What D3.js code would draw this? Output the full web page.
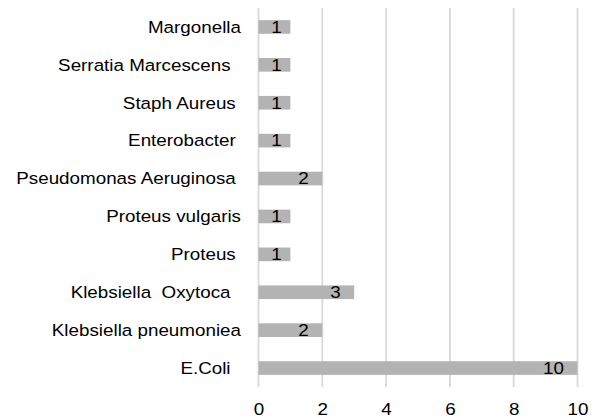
<!DOCTYPE html>
<html>
<head>
<meta charset="utf-8">
<script src="https://cdn.jsdelivr.net/npm/d3@7"></script>
<style>
  body { margin: 0; background: #fff; }
  svg text { font-family: Arial, "Liberation Sans", sans-serif; white-space: pre; }
</style>
</head>
<body>
<svg id="chart"></svg>
<script>
// categories top to bottom (trailing spaces kept as in the source labels)
const categories = [
  'Margonella',
  'Serratia Marcescens  ',
  'Staph Aureus ',
  'Enterobacter ',
  'Pseudomonas Aeruginosa ',
  'Proteus vulgaris',
  'Proteus ',
  'Klebsiella  Oxytoca  ',
  'Klebsiella pneumoniea',
  'E.Coli  '
];
const counts = [1, 1, 1, 1, 2, 1, 1, 3, 2, 10];
const xTicks = [0, 2, 4, 6, 8, 10];

const config = {
  width: 598,
  height: 418,
  plotLeft: 258.5,
  plotRight: 577.5,
  plotTop: 8,
  plotBottom: 387,
  labelRight: 241,
  fontSize: 16.5,
  stretch: 1.14   // source text is a bit wider than plain Arial
};

const data = categories.map((c, i) => ({ name: c, value: counts[i] }));

const svg = d3.select('#chart')
    .attr('width', config.width)
    .attr('height', config.height);

const x = d3.scaleLinear()
    .domain([0, 10])
    .range([config.plotLeft, config.plotRight]);

const y = d3.scaleBand()
    .domain(categories)
    .range([config.plotTop, config.plotBottom])
    .paddingInner(0.64)
    .paddingOuter(0.32);

// vertical gridlines
svg.append('g')
  .selectAll('line')
  .data(xTicks)
  .join('line')
    .attr('x1', d => x(d))
    .attr('x2', d => x(d))
    .attr('y1', config.plotTop)
    .attr('y2', config.plotBottom)
    .attr('stroke', '#d9d9d9')
    .attr('stroke-width', 1.8);

// bars
svg.append('g')
  .selectAll('rect')
  .data(data)
  .join('rect')
    .attr('x', x(0))
    .attr('y', d => y(d.name))
    .attr('width', d => x(d.value) - x(0))
    .attr('height', y.bandwidth())
    .attr('fill', '#b3b3b3');

// value labels, inside end
svg.append('g')
  .selectAll('text')
  .data(data)
  .join('text')
    .attr('transform', d => {
      const tx = x(d.value) - Math.min(13.5, (x(d.value) - x(0)) * 0.27);
      const ty = y(d.name) + y.bandwidth() / 2;
      return `translate(${tx},${ty}) scale(${config.stretch},1)`;
    })
    .attr('dy', '0.35em')
    .attr('text-anchor', 'end')
    .attr('font-size', config.fontSize)
    .attr('fill', '#000')
    .text(d => d.value);

// category labels
svg.append('g')
  .selectAll('text')
  .data(data)
  .join('text')
    .attr('transform', d => `translate(${config.labelRight},${y(d.name) + y.bandwidth() / 2}) scale(${config.stretch},1)`)
    .attr('dy', '0.35em')
    .attr('text-anchor', 'end')
    .attr('font-size', config.fontSize)
    .attr('fill', '#000')
    .text(d => d.name);

// x axis labels
const xAxis = d3.axisBottom(x)
    .tickValues(xTicks)
    .tickSize(0)
    .tickPadding(0);

const xAxisG = svg.append('g')
    .attr('transform', 'translate(0,409)')
    .call(xAxis);

xAxisG.select('.domain').remove();
xAxisG.selectAll('text')
    .attr('dy', '0.35em')
    .attr('transform', `scale(${config.stretch},1)`)
    .attr('font-size', config.fontSize)
    .attr('font-family', 'Arial, "Liberation Sans", sans-serif')
    .attr('fill', '#000');
</script>
</body>
</html>
